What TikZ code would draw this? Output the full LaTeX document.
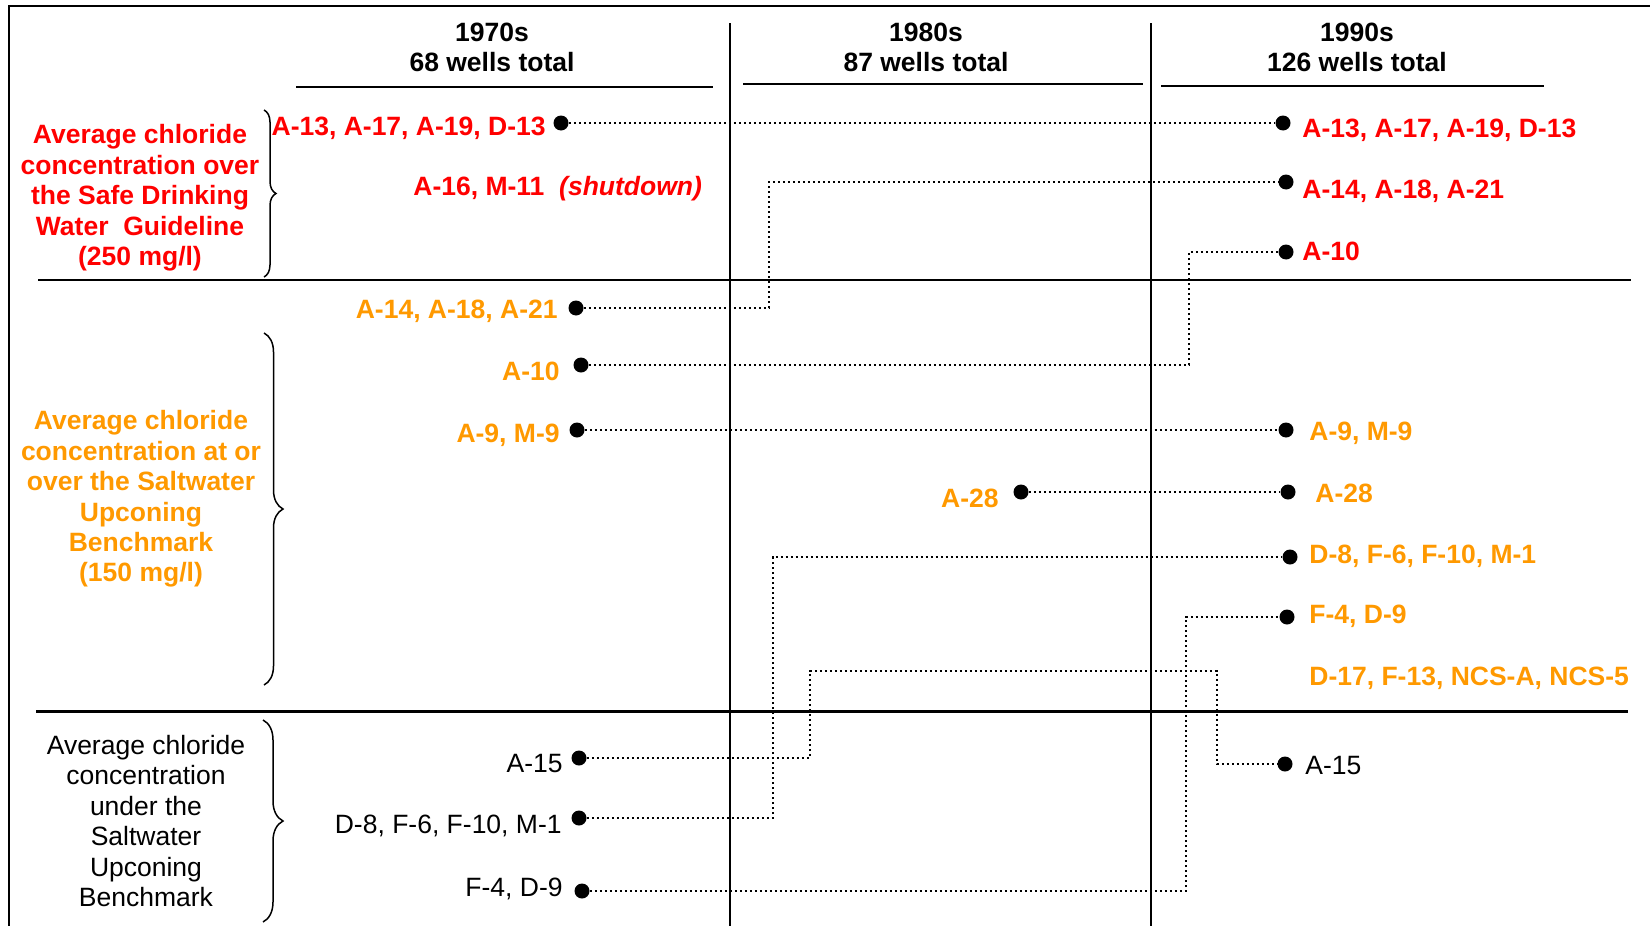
\documentclass[tikz,border=0pt]{standalone}
\usepackage{fontspec}
\setmainfont{Liberation Sans}
\usepackage{tikz}
\usetikzlibrary{decorations.pathreplacing, positioning}
\definecolor{alertred}{HTML}{FF0000}
\definecolor{warnorange}{HTML}{FF9900}

\begin{document}
\begin{tikzpicture}[
  x=0.5pt, y=-0.5pt,
  font=\fontsize{13.25}{15.2}\selectfont,
  well/.style={circle, fill=black, inner sep=0pt, minimum size=7.5pt},
  link/.style={line width=1.2pt, dash pattern=on 1.2pt off 1.3pt},
  wellname/.style={inner sep=0pt, font=\fontsize{13.25}{15.2}\selectfont\bfseries},
  redname/.style={wellname, text=alertred},
  orname/.style={wellname, text=warnorange},
  blkname/.style={inner sep=0pt},
  hdr/.style={align=center, inner sep=0pt, font=\fontsize{13.25}{15.2}\selectfont\bfseries},
  grouplbl/.style={align=center, inner sep=0pt},
  grp/.style={decorate, decoration={brace, amplitude=#1}, line width=0.75pt},
  grp/.default=8pt,
  rule/.style={line width=1pt}
]
  \useasboundingbox (0,0) rectangle (1650,926);
  \draw[rule] (9,926) -- (9,6) -- (1650,6);

  \node[hdr] (h70) at (492,47.5) {1970s\\68 wells total};
  \node[hdr] (h80) at (926,47.5) {1980s\\87 wells total};
  \node[hdr] (h90) at (1357,47.5) {1990s\\126 wells total};
  \draw[rule] (296,87) -- (713,87);
  \draw[rule] (743,84) -- (1143,84);
  \draw[rule] (1161,86) -- (1544,86);
  \draw[line width=0.75pt] (730,23) -- (730,926);
  \draw[line width=0.75pt] (1151,23) -- (1151,926);
  \draw[rule] (38,280) -- (1631,280);
  \draw[line width=1.5pt] (36,711) -- (1628,711);

  \node[grouplbl, text=alertred, font=\fontsize{13.25}{15.2}\selectfont\bfseries] (gred) at (140,198)
    {Average chloride\\concentration over\\the Safe Drinking\\Water~ Guideline\\(250 mg/l)};
  \node[grouplbl, text=warnorange, font=\fontsize{13.25}{15.2}\selectfont\bfseries] (gorange) at (141,499)
    {Average chloride\\concentration at or\\over the Saltwater\\Upconing\\Benchmark\\(150 mg/l)};
  \node[grouplbl] (gblack) at (146,821)
    {Average chloride\\concentration\\under the\\Saltwater\\Upconing\\Benchmark};
  \draw[grp=6pt] (264,110) -- (264,277);
  \draw[grp=9.5pt] (264,333) -- (264,685);
  \draw[grp=10pt] (263,720) -- (263,922);

  \node[well] (r70a) at (561,123) {};
  \node[well] (o70a) at (576,308) {};
  \node[well] (o70b) at (581,365) {};
  \node[well] (o70c) at (577,430) {};
  \node[well] (k70a) at (579,758) {};
  \node[well] (k70b) at (579,818) {};
  \node[well] (k70c) at (582,891) {};
  \node[well] (o80a) at (1021,492) {};
  \node[well] (r90a) at (1283,123) {};
  \node[well] (r90b) at (1286,182) {};
  \node[well] (r90c) at (1286,252) {};
  \node[well] (o90a) at (1286,430) {};
  \node[well] (o90b) at (1288,492) {};
  \node[well] (o90c) at (1290,557) {};
  \node[well] (o90d) at (1287,617) {};
  \node[well] (k90a) at (1285,764) {};

  \node[redname, anchor=base east] (t70a) at (546,135) {A-13, A-17, A-19, D-13};
  \node[redname, anchor=base west] (t70s) at (413,195) {A-16, M-11~ \textit{(shutdown)}};
  \node[orname, anchor=base east] (t70b) at (558,318) {A-14, A-18, A-21};
  \node[orname, anchor=base east] (t70c) at (560,380) {A-10};
  \node[orname, anchor=base east] (t70d) at (560,442) {A-9, M-9};
  \node[blkname, anchor=base east] (t70e) at (563,772) {A-15};
  \node[blkname, anchor=base east] (t70f) at (562,833) {D-8, F-6, F-10, M-1};
  \node[blkname, anchor=base east] (t70g) at (563,896) {F-4, D-9};
  \node[orname, anchor=base east] (t80a) at (999,507) {A-28};
  \node[redname, anchor=base west] (t90a) at (1302,137) {A-13, A-17, A-19, D-13};
  \node[redname, anchor=base west] (t90b) at (1302,198) {A-14, A-18, A-21};
  \node[redname, anchor=base west] (t90c) at (1302,260) {A-10};
  \node[orname, anchor=base west] (t90d) at (1309,440) {A-9, M-9};
  \node[orname, anchor=base west] (t90e) at (1315,502) {A-28};
  \node[orname, anchor=base west] (t90f) at (1309,563) {D-8, F-6, F-10, M-1};
  \node[orname, anchor=base west] (t90g) at (1309,623) {F-4, D-9};
  \node[orname, anchor=base west] (t90h) at (1309,685) {D-17, F-13, NCS-A, NCS-5};
  \node[blkname, anchor=base west] (t90i) at (1305,774) {A-15};

  \coordinate (bendA) at (769,0);
  \coordinate (bendB) at (1189,0);
  \coordinate (bendC) at (773,0);
  \coordinate (bendD) at (1186,0);
  \coordinate (bendE) at (810,671);
  \coordinate (bendF) at (1217,671);

  \draw[link] (r70a) -- (r90a);
  \draw[link] (o70a) -| (bendA |- r90b) -- (r90b);
  \draw[link] (o70b) -| (bendB |- r90c) -- (r90c);
  \draw[link] (o70c) -- (o90a);
  \draw[link] (o80a) -- (o90b);
  \draw[link] (k70b) -| (bendC |- o90c) -- (o90c);
  \draw[link] (k70c) -| (bendD |- o90d) -- (o90d);
  \draw[link] (k70a) -| (bendE) -- (bendF) |- (k90a);
\end{tikzpicture}
\end{document}
